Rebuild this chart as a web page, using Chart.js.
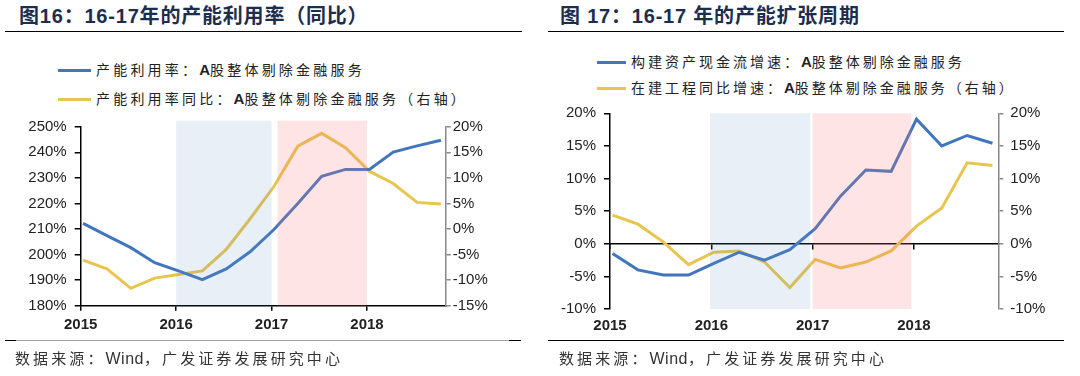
<!DOCTYPE html>
<html>
<head>
<meta charset="utf-8">
<script src="https://cdn.jsdelivr.net/npm/chart.js@4.4.1/dist/chart.umd.min.js"></script>
<style>
  body { margin:0; width:1080px; height:376px; background:#fff; position:relative; overflow:hidden;
         font-family:"Liberation Sans","Noto Sans CJK SC",sans-serif; }
  .title { position:absolute; top:5px; font-size:20px; line-height:22px; font-weight:bold; color:#1c2e4f;
           letter-spacing:0.8px; white-space:nowrap; }
  .rule { position:absolute; height:0; border-top:1.5px solid #000; }
  .leg { position:absolute; font-family:"Noto Sans CJK SC",sans-serif; font-size:14px; line-height:20px;
         letter-spacing:3.2px; color:#222; white-space:nowrap; }
  .leg b { font-family:"Liberation Sans",sans-serif; font-size:15px; letter-spacing:0; }
  .sw { display:inline-block; height:3px; vertical-align:middle; margin-right:5px; position:relative; top:-1px; }
  .src { position:absolute; top:348px; font-family:"Noto Sans CJK SC",sans-serif; font-size:15px; line-height:20px;
         letter-spacing:3.1px; color:#333; white-space:nowrap; }
  .src span { font-family:"Liberation Sans",sans-serif; font-size:16px; letter-spacing:0.5px; }
  canvas { position:absolute; }
</style>
</head>
<body>

<div class="title" style="left:19px">图16：16-17年的产能利用率（同比）</div>
<div class="rule" style="left:5px;top:31px;width:517px"></div>
<div class="leg" style="left:58px;top:59px"><span class="sw" style="width:33px;background:#4176bc"></span>产能利用率：<b>A</b>股整体剔除金融服务</div>
<div class="leg" style="left:58px;top:88px"><span class="sw" style="width:33px;background:#e8c54e"></span>产能利用率同比：<b>A</b>股整体剔除金融服务（右轴）</div>
<div style="position:absolute;left:0;top:105px;width:540px;height:240px"><canvas id="c16"></canvas></div>
<div class="rule" style="left:5px;top:340px;width:516px;border-top-color:#a0a0a0"></div>
<div class="rule" style="left:5px;top:340px;width:11px"></div>
<div class="rule" style="left:509px;top:340px;width:12px"></div>
<div class="src" style="left:15px">数据来源：<span>Wind</span>，广发证券发展研究中心</div>

<div class="title" style="left:560px">图 17：16-17 年的产能扩张周期</div>
<div class="rule" style="left:548px;top:31px;width:516px"></div>
<div class="leg" style="left:597px;top:51px;letter-spacing:3px"><span class="sw" style="width:29px;background:#4176bc"></span>构建资产现金流增速：<b>A</b>股整体剔除金融服务</div>
<div class="leg" style="left:597px;top:77px;letter-spacing:3px"><span class="sw" style="width:29px;background:#e8c54e"></span>在建工程同比增速：<b>A</b>股整体剔除金融服务（右轴）</div>
<div style="position:absolute;left:540px;top:95px;width:540px;height:250px"><canvas id="c17"></canvas></div>
<div class="rule" style="left:548px;top:340px;width:516px"></div>
<div class="src" style="left:559px">数据来源：<span>Wind</span>，广发证券发展研究中心</div>

<script>
// quarterly points, 2014Q4 .. 2018Q3
const quarters = ['2014Q4','2015Q1','2015Q2','2015Q3','2015Q4','2016Q1','2016Q2','2016Q3',
                  '2016Q4','2017Q1','2017Q2','2017Q3','2017Q4','2018Q1','2018Q2','2018Q3'];
const yearTicks = ['2015','2016','2017','2018'];
const yearTickIdx = [0, 4, 8, 12];

// fig 16
const capUtil    = [212.2, 207.4, 202.7, 196.8, 193.6, 190.2, 194.4, 201.1, 209.8, 220.0, 230.6, 233.3, 233.3, 240.1, 242.5, 244.7];
const capUtilYoY = [-6.1, -7.8, -11.6, -9.6, -8.9, -8.2, -4.0, 2.0, 8.3, 16.2, 18.7, 15.9, 11.3, 8.9, 5.2, 4.9];
// fig 17
const capexGrowth = [-1.5, -4.0, -4.8, -4.8, -3.0, -1.3, -2.5, -0.9, 2.3, 7.3, 11.3, 11.1, 19.1, 15.0, 16.6, 15.4];
const cipGrowth   = [4.4, 3.0, 0.3, -3.2, -1.3, -1.1, -2.8, -6.7, -2.4, -3.7, -2.8, -1.1, 2.7, 5.5, 12.4, 12.0];

// shaded periods, in quarter index units
const shade16 = [[3.9, 7.9, 'rgba(100,150,200,0.15)'], [8.15, 11.9, 'rgba(250,120,120,0.2)']];
const shade17 = [[3.85, 7.8, 'rgba(100,150,200,0.15)'], [7.9, 11.8, 'rgba(250,120,120,0.2)']];

const BLUE = '#4176bc', YELLOW = '#e8c54e';
const tickShift = -0.1;

Chart.defaults.font.family = '"Liberation Sans", Arial, sans-serif';
Chart.defaults.font.size = 15;
Chart.defaults.color = '#222';
Chart.defaults.animation = false;

const pts = arr => quarters.map((q, i) => ({ x: i, y: arr[i] }));

const shadePlugin = {
  id: 'shade',
  afterDatasetsDraw(chart, args, opts) {
    const { ctx, chartArea } = chart;
    const x = chart.scales.x;
    ctx.save();
    opts.spans.forEach(([a, b, col]) => {
      const x0 = x.getPixelForValue(a), x1 = x.getPixelForValue(b);
      ctx.fillStyle = col;
      ctx.fillRect(x0, chartArea.top - opts.above, x1 - x0, chartArea.bottom - chartArea.top + opts.above);
    });
    ctx.restore();
  }
};

function yearAxis(max, h, extra) {
  return Object.assign({
    type: 'linear', min: tickShift, max: max,
    afterBuildTicks: s => { s.ticks = yearTickIdx.map(v => ({ value: v + tickShift })); },
    afterFit: s => { s.height = h; },
    ticks: { callback: (v, i) => yearTicks[i], font: { weight: 'bold', size: 15 }, color: '#222', padding: 5, maxRotation: 0, autoSkip: false },
    grid: { drawOnChartArea: false, color: '#000', tickLength: 5, lineWidth: 1.5 },
    border: { color: '#000', width: 1.5 }
  }, extra || {});
}

function line(label, data, axis) {
  return { label, data: pts(data), yAxisID: axis, borderColor: axis === 'y' ? BLUE : YELLOW,
           borderWidth: 3, pointRadius: 0, tension: 0, fill: false };
}

new Chart(document.getElementById('c16'), {
  type: 'line',
  data: { datasets: [
    line('产能利用率：A股整体剔除金融服务', capUtil, 'y'),
    line('产能利用率同比：A股整体剔除金融服务（右轴）', capUtilYoY, 'y1')
  ]},
  options: {
    responsive: true, maintainAspectRatio: false,
    layout: { padding: { top: 21.7, left: 0, right: 0, bottom: 0 } },
    plugins: { legend: { display: false }, tooltip: { enabled: false }, shade: { spans: shade16, above: 6 } },
    scales: {
      x: yearAxis(15.2, 39.3),
      y: {
        position: 'left', min: 180, max: 250,
        afterFit: s => { s.width = 80.7; },
        ticks: { stepSize: 10, callback: v => v + '%', padding: 8, color: '#222' },
        grid: { drawOnChartArea: false, color: '#000', tickLength: 6, lineWidth: 1.5 },
        border: { color: '#000', width: 1.5 }
      },
      y1: {
        position: 'right', min: -15, max: 20,
        afterFit: s => { s.width = 94.3; },
        ticks: { stepSize: 5, callback: v => v + '%', padding: 2, color: '#222' },
        grid: { drawOnChartArea: false, color: '#888', tickLength: 5, lineWidth: 1.5 },
        border: { color: '#888', width: 1.5 }
      }
    }
  },
  plugins: [shadePlugin]
});

new Chart(document.getElementById('c17'), {
  type: 'line',
  data: { datasets: [
    line('构建资产现金流增速：A股整体剔除金融服务', capexGrowth, 'y'),
    line('在建工程同比增速：A股整体剔除金融服务（右轴）', cipGrowth, 'y1')
  ]},
  options: {
    responsive: true, maintainAspectRatio: false,
    layout: { padding: { top: 18.3, left: 0, right: 0, bottom: 0 } },
    plugins: { legend: { display: false }, tooltip: { enabled: false }, shade: { spans: shade17, above: 0 } },
    scales: {
      x: yearAxis(15.23, 36, {
        grid: { display: false, drawOnChartArea: false, tickLength: 0 },
        border: { display: false },
        ticks: { callback: (v, i) => yearTicks[i], font: { weight: 'bold', size: 15 }, color: '#222', padding: 8, maxRotation: 0, autoSkip: false }
      }),
      x0: yearAxis(15.23, 0, {
        position: { y: 0 },
        ticks: { display: false }
      }),
      y: {
        position: 'left', min: -10, max: 20,
        afterFit: s => { s.width = 70; },
        ticks: { stepSize: 5, callback: v => v + '%', padding: 8, color: '#222' },
        grid: { drawOnChartArea: false, color: '#000', tickLength: 6, lineWidth: 1.5 },
        border: { color: '#000', width: 1.5 }
      },
      y1: {
        position: 'right', min: -10, max: 20,
        afterFit: s => { s.width = 81.7; },
        ticks: { stepSize: 5, callback: v => v + '%', padding: 7, color: '#222' },
        grid: { drawOnChartArea: false, color: '#888', tickLength: 5, lineWidth: 1.5 },
        border: { color: '#888', width: 1.5 }
      }
    }
  },
  plugins: [shadePlugin]
});
</script>
</body>
</html>
